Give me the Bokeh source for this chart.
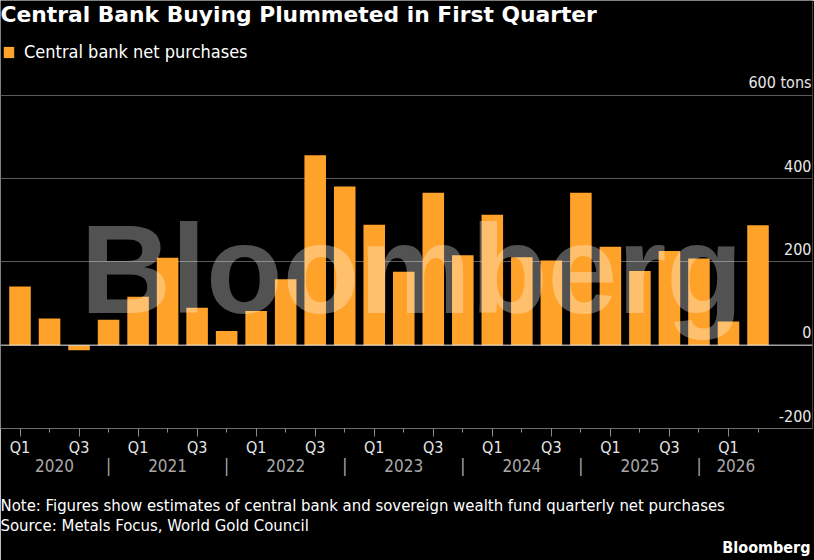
from bokeh.plotting import figure
from bokeh.models import (Range1d, FixedTicker, LinearAxis, Span, Label, Legend,
                          LegendItem, Title, ColumnDataSource)
from bokeh.core.properties import value
from bokeh.embed import file_html
from bokeh.resources import INLINE

# ---------------- data ----------------
years = ["2020", "2021", "2022", "2023", "2024", "2025", "2026"]
quarters = ["2020 Q1", "2020 Q2", "2020 Q3", "2020 Q4",
            "2021 Q1", "2021 Q2", "2021 Q3", "2021 Q4",
            "2022 Q1", "2022 Q2", "2022 Q3", "2022 Q4",
            "2023 Q1", "2023 Q2", "2023 Q3", "2023 Q4",
            "2024 Q1", "2024 Q2", "2024 Q3", "2024 Q4",
            "2025 Q1", "2025 Q2", "2025 Q3", "2025 Q4",
            "2026 Q1", "2026 Q2"]
net_purchases = [141, 64, -12, 61,
                 116, 210, 90, 34,
                 82, 158, 456, 381,
                 289, 176, 366, 216,
                 313, 211, 203, 366,
                 236, 178, 226, 208,
                 57, 288]
y_ticks = [-200, 0, 200, 400, 600]
y_tick_labels = ["-200", "0", "200", "400", "600 tons"]

TITLE = "Central Bank Buying Plummeted in First Quarter"
SERIES = "Central bank net purchases"
NOTE = "Note: Figures show estimates of central bank and sovereign wealth fund quarterly net purchases"
SOURCE = "Source: Metals Focus, World Gold Council"

# ---------------- style ----------------
ORANGE = "#FFA22A"
FONT = "DejaVu Sans Condensed"
BOLD_FONT = "DejaVu Sans"
n = len(quarters)
xpos = list(range(n))

PX_PER_Q = 29.52
FRAME_W = 812
FRAME_H = 428
PX_PER_UNIT = 250 / 600
x_start = -19.5 / PX_PER_Q
x_end = x_start + FRAME_W / PX_PER_Q
y_top = -200 + FRAME_H / PX_PER_UNIT

p = figure(frame_width=FRAME_W, frame_height=FRAME_H,
           x_range=Range1d(x_start, x_end), y_range=Range1d(-200, y_top),
           y_axis_location=None, toolbar_location=None, output_backend="svg",
           title=None, background_fill_color="black", border_fill_color="black",
           outline_line_color=None, min_border_left=0, min_border_right=2,
           min_border_top=0, min_border_bottom=132)

# grid
p.xgrid.visible = False
p.ygrid.ticker = FixedTicker(ticks=[t for t in y_ticks if t > 0])
p.ygrid.grid_line_color = "#5a5a5a"
p.ygrid.grid_line_width = 1

src = ColumnDataSource(dict(x=xpos, q=quarters, v=net_purchases))
bars = p.vbar(x="x", top="v", bottom=0, width=0.73, source=src,
              fill_color=ORANGE, line_color=None)

p.add_layout(Span(location=0, dimension="width", line_color="#f0f0f0", line_width=1))

# right-side value labels sitting above the gridlines
label_x = x_start + (FRAME_W - 1) / PX_PER_Q
ysrc = ColumnDataSource(dict(x=[label_x] * len(y_ticks), y=y_ticks, t=y_tick_labels))
p.text(x="x", y="y", text="t", source=ysrc, text_align="right",
       text_baseline="alphabetic", y_offset=-13, text_color="#e8e8e8",
       text_font=value(FONT), text_font_size="16px")

# x axis: quarter ticks
q_major = [i for i in xpos if i % 2 == 0]
q_minor = [i for i in xpos if i % 2 == 1]
xa = p.xaxis[0]
xa.ticker = FixedTicker(ticks=q_major, minor_ticks=q_minor)
xa.major_label_overrides = {i: quarters[i].split(" ")[1] for i in q_major}
xa.axis_line_color = "#6e6e6e"
xa.major_tick_line_color = "#8a8a8a"
xa.minor_tick_line_color = "#8a8a8a"
xa.major_tick_in = 0
xa.major_tick_out = 8
xa.minor_tick_in = 0
xa.minor_tick_out = 4
xa.major_label_standoff = 1
xa.major_label_text_color = "#e6e6e6"
xa.major_label_text_font = FONT
xa.major_label_text_font_size = "16px"

# year axis with separators at Q4 positions
seps = [i for i in xpos if i % 4 == 3]
bounds = [x_start] + seps + [n - 0.5]
year_pos = [(bounds[k] + bounds[k + 1]) / 2 for k in range(len(years))]
overrides = {yp: yr for yp, yr in zip(year_pos, years)}
overrides.update({s: "|" for s in seps})
ya = LinearAxis(ticker=FixedTicker(ticks=year_pos + seps, minor_ticks=[]),
                major_label_overrides=overrides, axis_line_color=None,
                major_tick_line_color=None, minor_tick_line_color=None,
                major_tick_in=0, major_tick_out=0,
                major_label_standoff=-4, major_label_text_color="#a8a8a8",
                major_label_text_font=FONT, major_label_text_font_size="17px")
p.add_layout(ya, "below")

# title (inside frame top)
p.add_layout(Label(x=x_start, y=y_top - 2.4, text=TITLE, text_baseline="top",
                   text_font=BOLD_FONT, text_font_style="bold",
                   text_font_size="21.8px", text_color="white"))

# watermark
p.add_layout(Label(x=2.05, y=182, text="Bloomberg", text_baseline="alphabetic",
                   text_font="Liberation Sans", text_font_style="bold",
                   text_font_size="125.5px", text_color="white", text_alpha=0.32))

# legend
legend = Legend(items=[LegendItem(label=SERIES, renderers=[bars])],
                location=(2, 366), padding=0, margin=0, spacing=0,
                glyph_width=13, glyph_height=14, label_standoff=9,
                label_text_font=FONT, label_text_font_size="18px",
                label_text_color="white", background_fill_alpha=0,
                border_line_alpha=0)
p.add_layout(legend)

# footer: spacer, note + source, logo
p.add_layout(Title(text=" ", text_font_size="1px", standoff=12), "below")
p.add_layout(Title(text=NOTE + "\n" + SOURCE, align="left", text_font=FONT,
                   text_font_style="normal", text_font_size="16.6px",
                   text_line_height=1.08, text_color="white", standoff=0), "below")
p.add_layout(Title(text="Bloomberg", align="right", text_font=FONT, text_font_style="bold",
                   text_font_size="16px", text_color="white", standoff=0, offset=2), "below")

open("out.html", "w").write(file_html(p, INLINE))
